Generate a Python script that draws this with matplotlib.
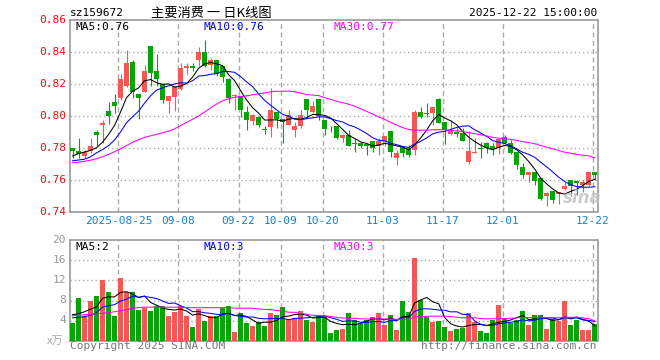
import numpy as np
import matplotlib
matplotlib.use("Agg")
import matplotlib.pyplot as plt

# daily K-line data, 2025-08-13 .. 2025-12-22 (88 trading days)
opens = [.780, .778, .775, .778, .790, .7945, .803, .809, .811, .819,
         .834, .814, .815, .844, .828, .820, .8095, .812, .817, .830,
         .831, .835, .840, .832, .835, .831, .823, .8125, .8125, .8025,
         .797, .7995, .7918, .793, .8025, .798, .7945, .791, .7935, .8105,
         .8028, .8105, .7975, .7925, .7935, .786, .788, .7833, .783, .7825,
         .7844, .7813, .7846, .7906, .7735, .7804, .7798, .7787, .8027, .802,
         .8017, .8105, .7965, .789, .790, .7896, .771, .777, .780, .783,
         .7815, .7798, .7867, .7833, .7777, .7683, .763, .7652, .7615, .750,
         .7533, .7515, .7542, .760, .7596, .757, .757, .7652]
highs = [.780, .786, .779, .786, .791, .7975, .809, .814, .826, .841,
         .835, .814, .832, .844, .839, .820, .8125, .819, .833, .833,
         .833, .843, .8475, .836, .835, .831, .824, .8135, .8125, .806,
         .8015, .800, .7935, .8175, .8025, .798, .804, .7965, .804, .8105,
         .8095, .8105, .7975, .7935, .7935, .789, .7913, .786, .784, .7825,
         .7844, .786, .7875, .7906, .7787, .7804, .782, .8035, .8058, .808,
         .8058, .8115, .7965, .7975, .7923, .7923, .7906, .786, .784, .784,
         .783, .7856, .788, .785, .7777, .7704, .7652, .7652, .7615, .7527,
         .7533, .7527, .759, .760, .760, .760, .7652, .7652]
lows = [.774, .774, .774, .777, .781, .783, .795, .802, .810, .818,
        .811, .798, .815, .819, .819, .808, .802, .803, .816, .826,
        .828, .831, .8305, .829, .825, .8215, .808, .804, .7995, .791,
        .7945, .793, .789, .787, .7925, .783, .7945, .787, .7925, .7995,
        .802, .7975, .788, .790, .7855, .784, .781, .7777, .780, .7756,
        .7777, .7756, .781, .7746, .7694, .7742, .7746, .7756, .7985, .7996,
        .7945, .7955, .7825, .788, .7871, .7846, .770, .7767, .774, .7767,
        .7756, .776, .7825, .776, .767, .761, .759, .757, .7475, .744,
        .7454, .745, .7535, .750, .7506, .7527, .756, .760]
closes = [.778, .776, .7777, .781, .788, .7955, .800, .806, .823, .833,
          .815, .811, .828, .827, .823, .810, .8125, .818, .830, .831,
          .830, .840, .8315, .835, .8265, .8245, .8115, .813, .8035, .7975,
          .8005, .7945, .7915, .8035, .798, .7965, .8005, .794, .8005, .8035,
          .8063, .800, .7917, .7922, .786, .788, .7813, .7823, .7813, .7813,
          .780, .7846, .7875, .7777, .7767, .7767, .7756, .8027, .7996, .8015,
          .8058, .7955, .7913, .7908, .789, .7846, .778, .7777, .7796, .780,
          .7794, .7856, .7833, .7767, .7694, .7631, .7652, .7596, .748, .7517,
          .7475, .7525, .7565, .7565, .7583, .759, .7652, .7631]
volumes = [3.47, 8.47, 4.87, 8.0, 9.0, 12.0, 9.8, 4.87, 12.47, 9.67,
           9.8, 6.2, 6.47, 6.0, 7.0, 6.87, 5.0, 5.8, 7.0, 5.0,
           2.8, 6.33, 4.0, 5.0, 5.0, 6.47, 7.0, 1.8, 5.53, 3.47,
           3.0, 3.67, 3.0, 5.47, 5.2, 6.67, 4.33, 4.47, 6.0, 4.13,
           3.8, 4.87, 4.87, 1.67, 2.2, 2.47, 5.47, 4.13, 3.53, 4.13,
           4.67, 5.47, 3.2, 5.2, 2.2, 8.0, 5.8, 16.47, 8.2, 4.67,
           3.67, 3.87, 2.8, 2.0, 2.47, 2.67, 5.47, 3.67, 2.0, 1.67,
           4.13, 7.2, 4.33, 3.47, 4.13, 6.0, 3.2, 5.2, 5.2, 2.47,
           4.33, 3.87, 8.0, 3.2, 4.13, 2.2, 2.2, 3.3]

# moving-average values before a full window is available
ma5_head = [.775, .7765, .7775, .7785]
ma10_head = [.772, .7725, .773, .7745, .777, .779, .7815, .785, .790]
ma30_head = [.7708, .7712, .7717, .7724, .7733, .7745, .7760, .7777, .7795, .7815,
             .7835, .7852, .7866, .7876, .7885, .7895, .7905, .7920, .7940, .7960,
             .7980, .8000, .8025, .8050, .8075, .8095, .8108, .8117, .8122]
vma5_head = [5.2, 5.4, 5.8, 6.3]
vma10_head = [4.6, 4.7, 4.8, 5.1, 5.6, 6.7, 7.0, 7.2, 7.9]
vma30_head = [5.0, 5.1, 5.2, 5.3, 5.4, 5.5, 5.6, 5.8, 6.0, 6.2,
              6.5, 6.6, 6.7, 6.7, 6.7, 6.7, 6.7, 6.7, 6.7, 6.6,
              6.6, 6.6, 6.6, 6.6, 6.6, 6.6, 6.6, 6.5, 6.5]

date_ticks = [8, 18, 28, 35, 42, 52, 62, 72, 87]
date_labels = ["2025-08-25", "09-08", "09-22", "10-09", "10-20",
               "11-03", "11-17", "12-01", "12-22"]
price_ticks = [0.74, 0.76, 0.78, 0.80, 0.82, 0.84, 0.86]
vol_ticks = [4, 8, 12, 16, 20]


def moving_avg(vals, n, head):
    vals = np.array(vals)
    rest = [vals[i - n + 1:i + 1].mean() for i in range(n - 1, len(vals))]
    return np.array(list(head) + rest)


RED = "#f55656"
GREEN = "#06a406"
GRID = "#aaaaaa"
W, H = 660, 360
MONO = "DejaVu Sans Mono"
CJK = ["Noto Sans CJK SC", "DejaVu Sans"]

fig = plt.figure(figsize=(6.6, 3.6), dpi=100)
fig.patch.set_facecolor("white")


def px_axes(x0, y0, x1, y1):
    return fig.add_axes([x0 / W, 1 - y1 / H, (x1 - x0) / W, (y1 - y0) / H])


def fx(x):
    return x / W


def fy(y):
    return 1 - y / H


ax = px_axes(70, 20, 597.5, 212)
axv = px_axes(70, 240, 597.5, 341)

n = len(closes)
x = np.arange(n)
o = np.array(opens)
c = np.array(closes)
up = c >= o
colors = [RED if u else GREEN for u in up]

# candles
ax.vlines(x, lows, highs, colors=colors, linewidth=0.8, zorder=3)
body_h = np.maximum(np.abs(c - o), 0.0005)
ax.bar(x, body_h, bottom=np.minimum(o, c), width=0.8, color=colors,
       linewidth=0, zorder=4)

ax.plot(x, moving_avg(closes, 5, ma5_head), color="black", lw=0.75, zorder=5)
ax.plot(x, moving_avg(closes, 10, ma10_head), color="#0000ff", lw=0.75, zorder=5)
ax.plot(x, moving_avg(closes, 30, ma30_head), color="#ff00ff", lw=0.75, zorder=5)

# volume
axv.bar(x, volumes, width=0.8, color=colors, linewidth=0, zorder=3)
axv.plot(x, moving_avg(volumes, 5, vma5_head), color="black", lw=0.75, zorder=5)
axv.plot(x, moving_avg(volumes, 10, vma10_head), color="#0000ff", lw=0.75, zorder=5)
axv.plot(x, moving_avg(volumes, 30, vma30_head), color="#ff00ff", lw=0.75, zorder=5)

for a, ylim, ticks in [(ax, (0.74, 0.86), price_ticks), (axv, (0, 20), vol_ticks)]:
    a.set_xlim(-0.42, n - 0.55)
    a.set_ylim(*ylim)
    a.set_xticks([])
    a.set_yticks([])
    for s in a.spines.values():
        s.set_color("#999999")
        s.set_linewidth(1.2)
    for t in ticks[1:-1] if a is ax else ticks[:-1]:
        a.axhline(t, color=GRID, lw=1.0, ls=(0, (1, 2)), zorder=1)
    for d in date_ticks:
        a.axvline(d - 0.35, color=GRID, lw=1.0, ls=(0, (3.6, 2.4)), zorder=1)

# price labels
for t in price_ticks:
    fig.text(fx(66), fy(20 + (0.86 - t) * 1600), f"{t:.2f}", color="#e81010",
             family=MONO, fontsize=8, ha="right", va="center")
for t in vol_ticks:
    fig.text(fx(66), fy(340 - t * 5), f"{t}", color="#999999",
             family=MONO, fontsize=8, ha="right", va="center")
fig.text(fx(63), fy(341), "x万", color="#aaaaaa", family=CJK, fontsize=8,
         ha="right", va="center", style="italic")

for d, lab in zip(date_ticks, date_labels):
    xp = 72.5 + 6 * (d - 0.35)
    fig.text(fx(xp), fy(221), lab, color="#1780d0", family=MONO, fontsize=8,
             ha="center", va="center")

# header texts
fig.text(fx(70), fy(13), "sz159672", family=MONO, fontsize=8, ha="left", va="center")
fig.text(fx(151), fy(13), "主要消费 一 日K线图", family=CJK, fontsize=9.5,
         ha="left", va="center")
fig.text(fx(597), fy(13), "2025-12-22 15:00:00", family=MONO, fontsize=8,
         ha="right", va="center")

fig.text(fx(75), fy(27), "MA5:0.76", family=MONO, fontsize=8, color="black", va="center")
fig.text(fx(204), fy(27), "MA10:0.76", family=MONO, fontsize=8, color="#0000ff", va="center")
fig.text(fx(334), fy(27), "MA30:0.77", family=MONO, fontsize=8, color="#ff00ff", va="center")
fig.text(fx(75), fy(247), "MA5:2", family=MONO, fontsize=8, color="black", va="center")
fig.text(fx(204), fy(247), "MA10:3", family=MONO, fontsize=8, color="#0000ff", va="center")
fig.text(fx(334), fy(247), "MA30:3", family=MONO, fontsize=8, color="#ff00ff", va="center")

fig.text(fx(70), fy(346), "Copyright 2025 SINA.COM", family=MONO, fontsize=8,
         color="#777777", ha="left", va="center")
fig.text(fx(597), fy(346), "http://finance.sina.com.cn", family=MONO, fontsize=8,
         color="#777777", ha="right", va="center")

# watermark
fig.text(fx(582), fy(198), "sina", family="DejaVu Sans", fontsize=12,
         fontweight="bold", style="italic", color="#c0c0c0", alpha=0.8,
         ha="center", va="center", zorder=10)

fig.savefig("out.png", dpi=100)
